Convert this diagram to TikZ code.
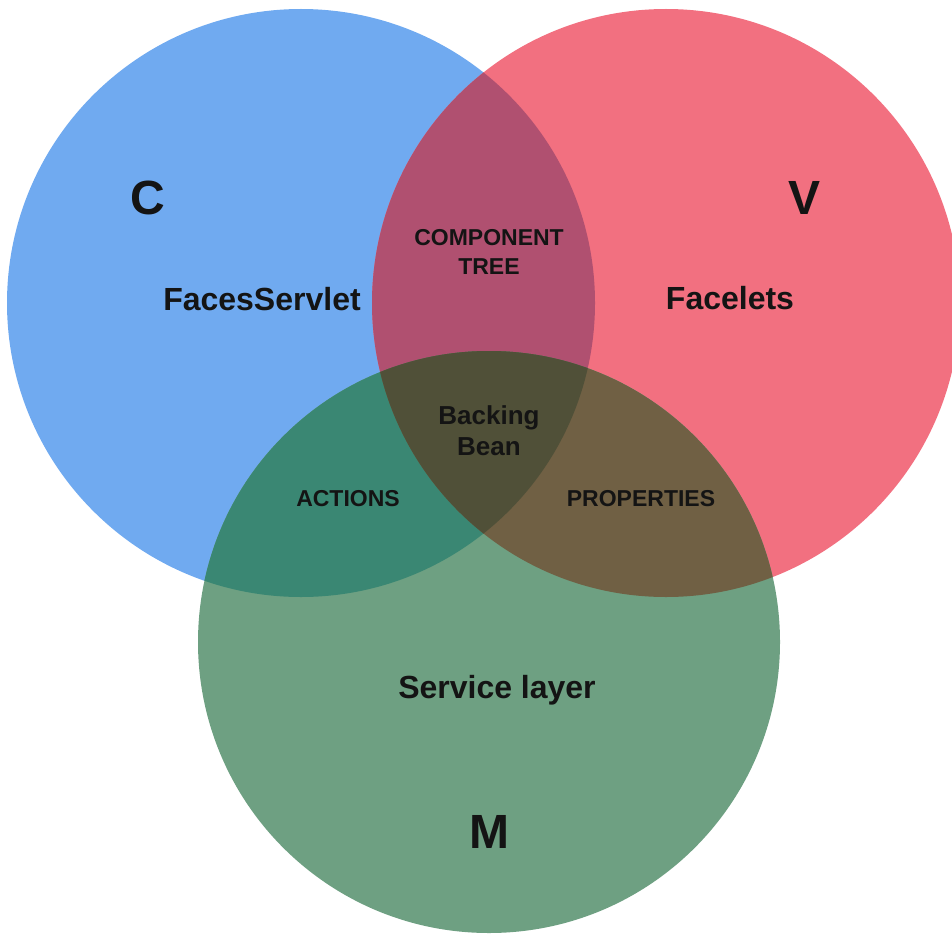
\documentclass[tikz,border=0pt]{standalone}
\usepackage{fontspec}
\setmainfont{Liberation Sans}
\begin{document}
\begin{tikzpicture}[x=1pt,y=-1pt,
  lbl/.style={anchor=base, text=black!92, inner sep=0pt},
  big/.style={lbl, font=\bfseries\fontsize{48}{48}\selectfont},
  mid/.style={lbl, font=\bfseries\fontsize{32}{32}\selectfont},
  sml/.style={lbl, font=\bfseries\fontsize{23}{23}\selectfont},
  bb/.style={lbl, font=\bfseries\fontsize{26}{26}\selectfont}]
\definecolor{cblue}{HTML}{70AAF0}
\definecolor{cred}{HTML}{F27080}
\definecolor{cgreen}{HTML}{6EA082}
\definecolor{cbr}{HTML}{B05070}
\definecolor{cbg}{HTML}{3A8773}
\definecolor{crg}{HTML}{706044}
\definecolor{call}{HTML}{505038}
\useasboundingbox (0,0) rectangle (952,936);
\clip (0,0) rectangle (952,936);
\coordinate (B) at (301,303);
\coordinate (R) at (666,303);
\coordinate (G) at (489,642);
\def\rB{294pt}\def\rR{294pt}\def\rG{291pt}
\fill[cblue] (B) circle[radius=\rB];
\fill[cred] (R) circle[radius=\rR];
\fill[cgreen] (G) circle[radius=\rG];
\begin{scope}\clip (B) circle[radius=\rB]; \fill[cbr] (R) circle[radius=\rR];\end{scope}
\begin{scope}\clip (B) circle[radius=\rB]; \fill[cbg] (G) circle[radius=\rG];\end{scope}
\begin{scope}\clip (R) circle[radius=\rR]; \fill[crg] (G) circle[radius=\rG];\end{scope}
\begin{scope}\clip (B) circle[radius=\rB]; \clip (R) circle[radius=\rR]; \fill[call] (G) circle[radius=\rG];\end{scope}
\node[big] (c) at (148,214) {C};
\node[big] (v) at (804,214) {V};
\node[mid] (fs) at (262,310) {FacesServlet};
\node[mid] (fl) at (730,309) {Facelets};
\node[sml] (comp) at (489,245) {COMPONENT};
\node[sml] (tree) at (489,274) {TREE};
\node[bb] (back) at (489,424) {Backing};
\node[bb] (bean) at (489,455) {Bean};
\node[sml] (act) at (348,506) {ACTIONS};
\node[sml] (prop) at (641,506) {PROPERTIES};
\node[mid] (svc) at (497,698) {Service layer};
\node[big] (m) at (489,848) {M};
\end{tikzpicture}
\end{document}
